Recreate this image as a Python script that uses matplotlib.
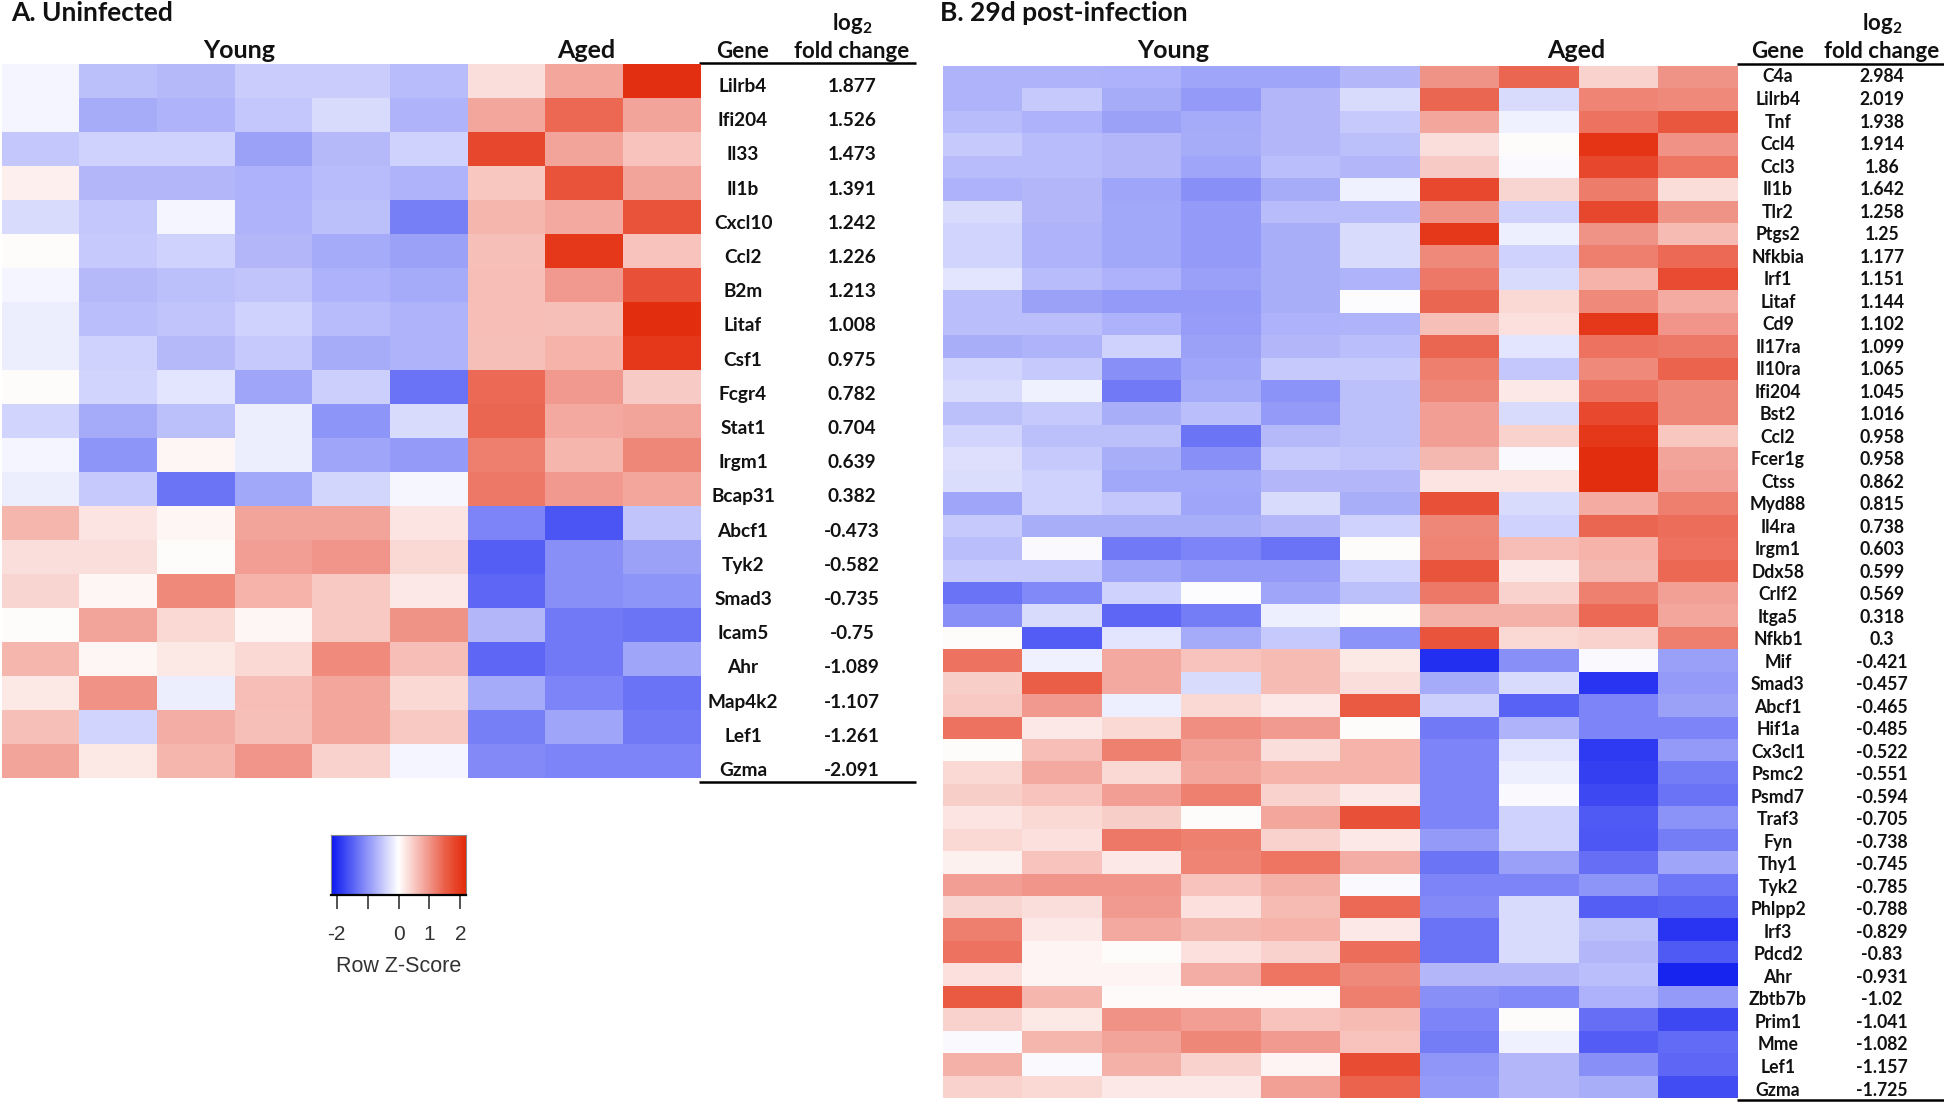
import matplotlib
matplotlib.use('Agg')
import matplotlib.pyplot as plt
from matplotlib.colors import LinearSegmentedColormap, Normalize
from matplotlib.cm import ScalarMappable
import numpy as np

plt.rcParams['font.family'] = ['Lato', 'DejaVu Sans']
plt.rcParams['mathtext.default'] = 'regular'

W, H = 1944, 1103

# Panel A: uninfected
genes_a = ['Lilrb4', 'Ifi204', 'Il33', 'Il1b', 'Cxcl10', 'Ccl2', 'B2m', 'Litaf', 'Csf1', 'Fcgr4', 'Stat1',
           'Irgm1', 'Bcap31', 'Abcf1', 'Tyk2', 'Smad3', 'Icam5', 'Ahr', 'Map4k2', 'Lef1', 'Gzma']
fold_a = ['1.877', '1.526', '1.473', '1.391', '1.242', '1.226', '1.213', '1.008', '0.975', '0.782', '0.704',
          '0.639', '0.382', '-0.473', '-0.582', '-0.735', '-0.75', '-1.089', '-1.107', '-1.261', '-2.091']
zscore_a = [
    [-.10, -.58, -.65, -.47, -.47, -.62, .30, .82, 2.10],
    [-.10, -.78, -.70, -.52, -.33, -.70, .82, 1.40, .85],
    [-.52, -.42, -.42, -.88, -.65, -.42, 1.80, .85, .55],
    [.15, -.68, -.68, -.72, -.62, -.70, .52, 1.65, .85],
    [-.33, -.52, -.10, -.70, -.58, -1.20, .68, .80, 1.65],
    [.03, -.50, -.42, -.68, -.80, -.88, .58, 2.00, .55],
    [-.10, -.65, -.58, -.55, -.72, -.80, .60, .95, 1.68],
    [-.17, -.60, -.55, -.42, -.62, -.70, .60, .58, 2.12],
    [-.17, -.42, -.65, -.50, -.78, -.70, .58, .70, 2.00],
    [.03, -.40, -.25, -.85, -.45, -1.32, 1.38, .95, .48],
    [-.40, -.80, -.58, -.17, -1.00, -.33, 1.42, .80, .85],
    [-.10, -1.00, .08, -.17, -.85, -.95, 1.20, .68, 1.12],
    [-.17, -.50, -1.30, -.82, -.38, -.08, 1.25, .95, .82],
    [.68, .25, .08, .85, .85, .25, -1.15, -1.60, -.55],
    [.30, .30, .02, .90, .98, .35, -1.50, -1.05, -.88],
    [.38, .08, 1.10, .70, .50, .20, -1.42, -1.05, -1.00],
    [.02, .85, .35, .08, .50, 1.00, -.68, -1.25, -1.30],
    [.68, .08, .22, .35, 1.08, .60, -1.42, -1.25, -.85],
    [.22, 1.02, -.17, .60, .82, .35, -.80, -1.15, -1.32],
    [.58, -.40, .75, .58, .82, .50, -1.20, -.85, -1.25],
    [.85, .22, .68, .98, .42, -.10, -1.10, -1.15, -1.15],
]

# Panel B: 29d post-infection
genes_b = ['C4a', 'Lilrb4', 'Tnf', 'Ccl4', 'Ccl3', 'Il1b', 'Tlr2', 'Ptgs2', 'Nfkbia', 'Irf1', 'Litaf', 'Cd9',
           'Il17ra', 'Il10ra', 'Ifi204', 'Bst2', 'Ccl2', 'Fcer1g', 'Ctss', 'Myd88', 'Il4ra', 'Irgm1', 'Ddx58',
           'Crlf2', 'Itga5', 'Nfkb1', 'Mif', 'Smad3', 'Abcf1', 'Hif1a', 'Cx3cl1', 'Psmc2', 'Psmd7', 'Traf3',
           'Fyn', 'Thy1', 'Tyk2', 'Phlpp2', 'Irf3', 'Pdcd2', 'Ahr', 'Zbtb7b', 'Prim1', 'Mme', 'Lef1', 'Gzma']
fold_b = ['2.984', '2.019', '1.938', '1.914', '1.86', '1.642', '1.258', '1.25', '1.177', '1.151', '1.144',
          '1.102', '1.099', '1.065', '1.045', '1.016', '0.958', '0.958', '0.862', '0.815', '0.738', '0.603',
          '0.599', '0.569', '0.318', '0.3', '-0.421', '-0.457', '-0.465', '-0.485', '-0.522', '-0.551',
          '-0.594', '-0.705', '-0.738', '-0.745', '-0.785', '-0.788', '-0.829', '-0.83', '-0.931', '-1.02',
          '-1.041', '-1.082', '-1.157', '-1.725']
zscore_b = [
    [-.70, -.70, -.72, -.85, -.85, -.68, 1.00, 1.42, .42, 1.00],
    [-.70, -.50, -.78, -.95, -.68, -.33, 1.42, -.33, 1.15, 1.10],
    [-.62, -.72, -.88, -.80, -.68, -.50, .82, -.12, 1.30, 1.60],
    [-.50, -.62, -.68, -.78, -.68, -.58, .30, .03, 2.05, 1.02],
    [-.62, -.62, -.68, -.85, -.60, -.68, .48, -.05, 1.80, 1.28],
    [-.72, -.68, -.85, -1.05, -.78, -.12, 1.78, .38, 1.22, .32],
    [-.33, -.68, -.82, -.95, -.62, -.62, 1.00, -.42, 1.80, 1.00],
    [-.40, -.70, -.82, -.95, -.75, -.33, 2.00, -.15, 1.00, .62],
    [-.40, -.70, -.82, -.95, -.75, -.33, 1.10, -.42, 1.20, 1.38],
    [-.25, -.62, -.72, -.90, -.75, -.70, 1.25, -.33, .70, 1.75],
    [-.60, -.88, -.95, -.95, -.75, -.03, 1.42, .35, 1.10, .78],
    [-.60, -.60, -.72, -.92, -.72, -.70, .58, .28, 2.00, .98],
    [-.75, -.70, -.42, -.88, -.68, -.60, 1.42, -.25, 1.30, 1.25],
    [-.40, -.50, -1.05, -.85, -.50, -.50, 1.20, -.52, 1.10, 1.45],
    [-.33, -.12, -1.25, -.80, -1.02, -.58, 1.12, .20, 1.30, 1.12],
    [-.58, -.50, -.75, -.60, -.95, -.58, .90, -.33, 1.78, 1.12],
    [-.40, -.58, -.58, -1.30, -.65, -.58, .90, .42, 2.00, .52],
    [-.30, -.50, -.75, -1.05, -.50, -.55, .65, -.05, 2.12, .85],
    [-.32, -.42, -.82, -.82, -.68, -.68, .25, .25, 2.12, .90],
    [-.85, -.42, -.52, -.85, -.33, -.75, 1.68, -.33, .78, 1.20],
    [-.50, -.75, -.75, -.75, -.68, -.42, 1.12, -.42, 1.42, 1.35],
    [-.60, -.05, -1.25, -1.15, -1.32, .02, 1.15, .60, .70, 1.32],
    [-.50, -.50, -.85, -.95, -.95, -.40, 1.62, .20, .65, 1.40],
    [-1.32, -1.12, -.42, -.02, -.85, -.58, 1.25, .42, 1.18, .88],
    [-1.05, -.33, -1.42, -1.22, -.15, .03, .72, .72, 1.38, .82],
    [.03, -1.52, -.25, -.80, -.50, -1.02, 1.62, .35, .42, 1.20],
    [1.30, -.12, .80, .55, .62, .22, -1.95, -1.05, -.05, -.90],
    [.45, 1.50, .80, -.33, .62, .30, -.80, -.33, -1.90, -.95],
    [.50, .95, -.15, .35, .20, 1.55, -.45, -1.48, -1.15, -.88],
    [1.30, .20, .35, 1.05, .92, .03, -1.25, -.70, -1.15, -1.15],
    [.03, .60, 1.18, .88, .30, .70, -1.15, -.25, -1.85, -.95],
    [.35, .80, .35, .82, .70, .70, -1.15, -.15, -1.80, -1.22],
    [.45, .55, .90, 1.18, .42, .20, -1.15, -.04, -1.72, -1.32],
    [.25, .35, .45, .02, .82, 1.68, -1.15, -.42, -1.55, -1.02],
    [.35, .28, 1.25, 1.18, .42, .20, -.95, -.42, -1.58, -1.22],
    [.12, .55, .20, 1.15, 1.28, .75, -1.30, -.90, -1.35, -.85],
    [.90, .98, .98, .55, .72, -.04, -1.15, -1.15, -1.00, -1.28],
    [.38, .30, .92, .28, .62, 1.38, -1.10, -.33, -1.50, -1.45],
    [1.20, .20, .80, .65, .70, .20, -1.32, -.33, -.58, -1.90],
    [1.30, .10, .03, .28, .42, 1.35, -1.32, -.33, -.68, -1.55],
    [.28, .10, .10, .75, 1.28, 1.10, -.68, -.68, -.60, -2.05],
    [1.55, .68, .04, .04, .04, 1.20, -1.05, -1.12, -.72, -.95],
    [.42, .22, 1.02, .90, .55, .62, -1.15, .03, -1.35, -1.72],
    [-.04, .68, .85, 1.12, .92, .55, -1.22, -.12, -1.52, -1.38],
    [.72, -.04, .72, .42, .10, 1.72, -.98, -.68, -1.05, -1.42],
    [.42, .35, .20, .20, .88, 1.45, -.95, -.68, -.75, -1.68],
]

cbar_ticks = [-2, -1, 0, 1, 2]
cbar_labels = ['-2', '', '0', '1', '2']

# white in the middle, reds a bit stronger through the upper range
z_max = 2.18
cmap = LinearSegmentedColormap.from_list('zscore', [
    (0.0, '#0a18f0'),
    (0.5, '#ffffff'),
    (0.5 + 1.0 / (2 * z_max), '#f19488'),
    (0.5 + 1.5 / (2 * z_max), '#eb5f48'),
    (1.0, '#e32a0b'),
])
norm = Normalize(-z_max, z_max)

fig = plt.figure(figsize=(W / 100, H / 100), dpi=100, facecolor='white')


def px_axes(left, top, right, bottom):
    # axes placed in reference pixels
    return fig.add_axes([left / W, 1 - bottom / H, (right - left) / W, (bottom - top) / H])


# full figure overlay for text and rules
ax = px_axes(0, 0, W, H)
ax.set_xlim(0, W)
ax.set_ylim(H, 0)
ax.axis('off')


def panel(title, title_x, genes, folds, z, box, young_x, aged_x, gene_x, fold_x, rule_x, rule_top, rule_bot,
          row_first, row_last, log_y, head_y, row_fs):
    hm = px_axes(*box)
    hm.imshow(np.array(z), cmap=cmap, norm=norm, aspect='auto', interpolation='nearest')
    hm.axis('off')

    ax.text(title_x, 13, title, fontsize=19, fontweight='bold', va='center', ha='left', color='#111111')
    ax.text(young_x, 50, 'Young', fontsize=18, fontweight='bold', va='center', ha='center', color='#111111')
    ax.text(aged_x, 50, 'Aged', fontsize=18, fontweight='bold', va='center', ha='center', color='#111111')
    ax.text(gene_x, head_y, 'Gene', fontsize=16, fontweight='bold', va='center', ha='center', color='#111111')
    ax.text(fold_x, head_y, 'fold change', fontsize=16, fontweight='bold', va='center', ha='center', color='#111111')
    ax.text(fold_x, log_y, 'log$_2$', fontsize=16, fontweight='bold', va='center', ha='center', color='#111111')
    ax.plot(rule_x, [rule_top, rule_top], color='black', lw=1.8, solid_capstyle='butt')
    ax.plot(rule_x, [rule_bot, rule_bot], color='black', lw=1.8, solid_capstyle='butt')

    ys = np.linspace(row_first, row_last, len(genes))
    for y, g, f in zip(ys, genes, folds):
        ax.text(gene_x, y, g, fontsize=row_fs, fontweight='bold', va='center', ha='center', color='#111111')
        ax.text(fold_x, y, f, fontsize=row_fs, fontweight='bold', va='center', ha='center', color='#111111')


panel('A. Uninfected', 10.7, genes_a, fold_a, zscore_a, (2, 64, 700.5, 778),
      239, 586, 743, 852, [698.7, 916], 62.5, 781.5, 86.5, 770.5, 23, 51, 13.7)
panel('B. 29d post-infection', 940, genes_b, fold_b, zscore_b, (943, 66, 1737, 1098),
      1173, 1576, 1778, 1882, [1737, 1944], 64, 1099.5, 77, 1090, 24, 52, 12.7)

# colour key
cax = px_axes(331, 835, 466, 894.5)
sm = ScalarMappable(norm=norm, cmap=cmap)
cb = fig.colorbar(sm, cax=cax, orientation='horizontal', ticks=cbar_ticks)
cb.ax.set_xticklabels(cbar_labels, family='Liberation Sans', fontsize=15, color='#333333')
cb.ax.tick_params(axis='x', length=10, width=1.2, color='#333333', pad=12)
cb.outline.set_visible(False)
for side in ['top', 'left', 'right']:
    cb.ax.spines[side].set_visible(True)
    cb.ax.spines[side].set_color('#888888')
    cb.ax.spines[side].set_linewidth(0.8)
cb.ax.spines['bottom'].set_visible(True)
cb.ax.spines['bottom'].set_color('black')
cb.ax.spines['bottom'].set_linewidth(1.6)

ax.text(399, 967, 'Row Z-Score', family='Liberation Sans', fontsize=15.5, color='#333333', ha='center', va='center')

fig.savefig('out.png', dpi=100, facecolor='white')
plt.close(fig)
